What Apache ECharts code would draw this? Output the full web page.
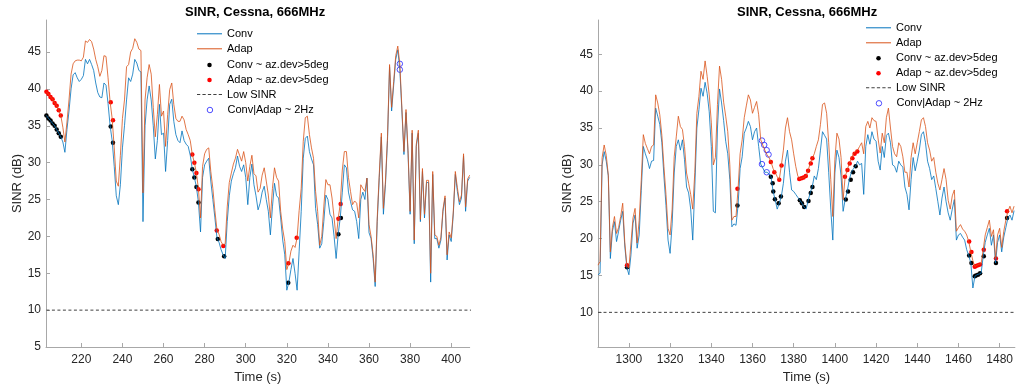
<!DOCTYPE html>
<html>
<head>
<meta charset="utf-8">
<script src="https://cdn.jsdelivr.net/npm/echarts@6/dist/echarts.min.js"></script>
<style>html,body{margin:0;padding:0;background:#fff}#c{width:1016px;height:389px}</style>
</head>
<body>
<div id="c"></div>
<script>
// ---------------- DATA ----------------
const titleText = 'SINR, Cessna, 666MHz';
const xName = 'Time (s)';
const yName = 'SINR (dB)';
const lowSinr = 10;

// Left panel: 1 s samples starting at t = 203 s
const leftStart = 203;
const leftConv = [
 36.4,36.0,35.7,35.3,35.0,34.5,34.0,33.5,32.8,31.4,
 34.5,37.0,40.0,41.9,42.2,41.5,41.0,41.3,41.8,44.0,
 43.4,44.0,43.3,42.5,40.8,39.5,38.9,38.8,40.8,40.5,
 38.0,35.0,33.0,29.5,25.5,24.3,27.0,32.0,35.0,38.5,
 41.5,41.0,42.0,44.0,43.5,42.5,42.3,22.0,35.0,38.5,
 40.4,38.5,35.0,30.5,33.0,37.9,33.8,34.0,28.8,33.0,
 37.9,38.6,35.6,33.8,33.0,32.7,34.3,33.0,32.5,32.2,
 31.0,29.1,28.0,26.7,24.6,20.6,28.0,29.7,30.2,30.6,
 27.5,25.0,22.5,19.8,19.2,18.2,17.5,17.0,22.0,25.5,
 27.5,28.5,29.3,30.9,29.5,28.8,29.7,28.0,24.3,28.0,
 29.8,27.0,25.5,23.6,24.5,26.0,26.8,25.0,23.4,20.2,
 24.0,27.2,25.5,25.2,22.5,19.5,17.5,12.7,13.8,15.5,
 17.0,15.0,12.7,18.0,23.4,30.6,33.3,33.6,31.5,30.5,
 29.7,23.8,21.6,18.4,19.0,22.0,25.6,25.0,23.0,22.5,
 20.0,17.0,20.3,22.5,26.0,29.7,29.3,26.0,24.7,23.6,
 23.4,22.0,19.7,25.0,26.0,25.0,27.9,20.5,19.7,17.0,
 13.2,22.0,28.0,33.5,23.0,27.0,33.0,43.0,37.0,40.5,
 44.0,45.3,42.6,37.0,31.1,36.8,31.2,23.0,34.0,19.0,
 32.2,34.0,22.0,28.8,22.5,27.3,27.3,13.8,28.4,19.7,
 19.7,18.4,19.5,23.4,25.2,16.8,20.2,19.3,22.9,28.4,
 26.1,24.3,25.2,30.9,23.4,27.5,28.0
];
const leftAdap = [
 39.6,39.3,38.9,38.6,38.1,37.7,37.1,36.4,34.8,32.8,
 35.5,38.5,42.0,43.4,43.8,43.9,43.9,43.8,44.3,46.5,
 46.3,46.7,46.4,45.4,44.0,43.0,41.7,42.5,44.5,44.4,
 41.5,38.2,36.0,32.0,27.5,26.8,31.0,36.0,38.5,43.0,
 43.3,45.0,45.5,46.8,46.3,45.4,45.2,25.9,38.5,41.5,
 43.3,42.0,37.5,33.5,36.5,40.6,36.3,37.0,32.2,36.5,
 39.9,40.8,37.9,36.0,35.6,35.6,36.3,35.8,34.5,33.8,
 33.0,31.1,30.0,28.6,26.4,22.5,29.5,31.2,31.8,32.0,
 28.8,26.5,23.5,20.9,20.3,19.3,18.8,19.0,24.0,27.3,
 28.6,29.8,30.6,31.8,31.0,30.2,31.5,30.0,27.5,29.5,
 31.0,28.5,28.2,26.0,26.5,28.3,29.3,27.5,25.6,22.5,
 26.5,29.3,28.0,27.5,23.4,21.0,19.3,15.5,16.4,18.0,
 18.8,18.5,19.8,23.5,26.5,32.9,36.1,36.3,33.8,32.0,
 30.6,26.1,23.4,18.8,20.0,24.0,27.7,27.0,27.0,25.2,
 22.5,19.7,22.4,24.4,29.0,31.5,31.5,28.0,26.1,24.3,
 24.8,24.5,22.5,27.0,26.5,26.1,27.9,21.6,20.0,17.5,
 13.8,22.5,28.5,34.0,23.8,27.5,33.5,43.3,37.5,41.0,
 44.5,45.8,43.4,37.4,31.5,37.2,31.6,23.4,34.4,19.5,
 32.5,34.4,22.3,29.2,23.0,27.6,27.6,15.0,28.8,20.2,
 20.0,18.8,19.9,23.7,25.5,17.5,20.6,19.8,23.3,28.8,
 26.6,24.7,25.6,31.2,24.0,27.8,28.3
];
const leftConvDotT = [203,204,205,206,207,208,209,210,234.3,235.4,274,275,276,277,286.4,289.5,320.7,345.1,346.3];
const leftConvDotV = [36.4,36.0,35.7,35.3,35.0,34.5,34.0,33.5,34.9,32.7,29.1,28.0,26.7,24.6,19.65,17.3,13.7,20.3,22.5];
const leftAdapDotT = [203,204,205,206,207,208,209,210,234.3,235.4,274,275,276,277,285.9,289.1,320.8,324.8,345.1,346.2];
const leftAdapDotV = [39.6,39.3,38.9,38.6,38.1,37.7,37.1,36.4,38.2,35.75,31.1,30.0,28.6,26.4,20.8,18.7,16.35,19.8,22.4,24.4];
const leftCircT = [375,375];
const leftCircV = [43.4,42.6];

// Right panel: 1 s samples starting at t = 1285 s
const rightStart = 1285;
const rightConv = [
 15.1,15.3,30.0,31.8,30.5,28.5,17.3,21.0,22.3,19.6,
 21.0,22.5,23.7,19.0,16.1,15.1,17.8,22.1,23.2,18.7,
 20.5,26.5,32.5,31.5,30.7,29.5,30.5,30.6,37.7,36.6,
 35.5,33.0,28.5,24.5,19.8,18.0,22.0,28.9,32.5,33.4,
 32.0,33.4,30.7,27.0,26.2,24.0,19.8,27.0,35.0,37.5,
 40.4,39.3,41.2,39.7,37.2,32.5,23.7,23.5,35.0,40.3,
 38.4,36.0,33.2,31.5,28.0,21.6,22.0,21.8,24.5,29.5,
 31.1,34.3,35.0,35.9,35.2,33.4,34.5,35.0,32.5,30.1,
 29.6,29.0,29.0,28.8,28.4,26.4,25.3,24.0,24.8,25.7,
 27.5,30.5,32.0,29.0,26.6,26.4,26.0,25.6,25.2,24.8,
 24.3,24.0,25.1,26.2,27.0,28.5,28.0,29.5,32.0,34.5,
 34.0,33.5,29.0,24.0,19.8,28.9,32.0,31.0,28.5,23.7,
 25.3,26.4,28.0,29.0,29.5,29.8,30.5,30.0,30.2,26.0,
 32.5,34.1,32.8,34.5,33.5,33.2,30.5,29.3,32.5,31.0,
 34.0,34.3,33.0,30.0,29.8,29.0,30.5,30.0,29.7,27.0,
 26.0,23.9,28.0,31.0,29.2,30.5,32.0,34.1,34.5,33.0,
 30.5,29.5,28.0,28.5,26.8,25.0,23.2,25.5,27.0,25.0,
 23.5,22.5,24.0,25.3,19.8,20.5,20.7,20.2,19.8,18.5,
 17.7,16.7,13.3,14.9,15.1,15.2,15.3,17.6,19.5,20.5,
 21.4,19.1,20.5,16.7,19.5,20.5,18.2,20.2,21.5,22.8,
 23.2,22.5,23.8
];
const rightAdap = [
 16.4,16.9,31.0,32.7,31.3,28.6,18.2,21.5,23.0,20.7,
 21.5,23.0,24.8,19.5,16.4,16.0,19.4,22.8,24.1,19.4,
 22.5,27.9,34.1,32.9,32.2,31.5,32.5,32.7,39.5,38.4,
 36.8,34.0,29.8,26.0,21.4,20.5,24.0,31.1,33.8,36.6,
 35.2,34.8,32.5,28.9,27.5,26.0,24.0,29.0,37.0,39.3,
 42.7,41.6,44.1,42.0,39.5,35.8,30.0,31.0,38.2,43.4,
 41.6,38.5,36.6,34.5,30.0,22.5,23.0,23.0,26.75,31.5,
 33.4,36.4,38.0,39.5,38.8,37.0,37.8,38.6,36.8,33.4,
 32.7,32.0,31.4,31.0,30.4,29.5,29.0,28.4,28.0,29.9,
 32.0,35.0,36.4,34.5,33.4,31.5,29.8,28.5,28.1,28.2,
 28.3,28.5,29.2,30.2,30.9,31.5,32.5,33.4,35.5,38.2,
 38.4,37.0,33.0,28.0,23.0,30.7,34.3,33.5,31.0,25.3,
 28.4,29.3,30.2,30.9,31.5,31.8,32.0,32.5,33.0,31.5,
 35.2,35.9,35.0,36.4,36.0,35.9,33.5,31.6,34.3,33.0,
 36.4,37.7,35.0,32.5,31.5,31.1,33.0,32.5,31.1,29.0,
 29.0,27.0,31.0,33.0,31.5,33.0,34.5,36.1,36.4,35.2,
 33.0,32.0,30.5,31.0,29.0,27.5,26.6,28.0,29.5,28.0,
 25.2,24.0,25.8,26.6,21.0,21.5,21.9,21.3,21.0,20.5,
 19.6,18.2,17.0,16.2,16.4,16.5,16.6,18.5,20.5,21.5,
 22.5,20.3,21.2,17.3,20.5,21.4,18.8,21.0,22.5,23.7,
 24.4,23.5,24.4
];
const rightConvDotT = [1299.1,1352.7,1368.9,1369.8,1370.1,1370.9,1372.7,1373.8,1383,1384,1385.1,1387.2,1388.3,1389.1,1405.3,1406.4,1407.7,1408.8,1410.1,1465.2,1466.3,1467.9,1468.5,1469.5,1470.5,1472.3,1478.2,1483.6];
const rightConvDotV = [16.1,24.5,28.4,27.5,26.4,25.35,24.8,25.7,25.2,24.8,24.3,25.1,26.2,27.0,25.3,26.4,28.0,29.0,29.8,17.7,16.7,14.9,15.0,15.1,15.3,17.6,16.7,22.8];
const rightAdapDotT = [1299.1,1352.7,1368.9,1370.6,1373,1374.1,1382.7,1383.8,1384.8,1385.9,1387,1388.3,1389.1,1404.9,1406.1,1407.2,1408.5,1409.6,1410.9,1465.2,1466.3,1467.9,1468.5,1469.5,1470.5,1472.3,1478.2,1483.6];
const rightAdapDotV = [16.4,26.75,30.4,29.0,28.0,29.9,28.1,28.2,28.3,28.5,29.2,30.2,30.9,28.4,29.3,30.2,30.9,31.5,31.8,19.6,18.2,16.2,16.3,16.4,16.5,18.5,17.3,23.7];
const rightCircT = [1364.6,1365.7,1366.9,1367.8,1364.6,1366.9];
const rightCircV = [33.3,32.7,32.0,31.4,30.1,29.0];

const leftXTicks = [220,240,260,280,300,320,340,360,380,400];
const rightXTicks = [1300,1320,1340,1360,1380,1400,1420,1440,1460,1480];
const leftYTicks = [5,10,15,20,25,30,35,40,45];
const rightYTicks = [10,15,20,25,30,35,40,45];

const names = ['Conv','Adap','Conv ~ az.dev>5deg','Adap ~ az.dev>5deg','Low SINR','Conv|Adap ~ 2Hz'];

// ---------------- STYLE ----------------
const FONT = "'Liberation Sans', Arial, Helvetica, sans-serif";
const C_CONV = '#0072BD', C_ADAP = '#D95319', C_CIRC = '#3a3aff', C_LOW = '#404040';
const AX = '#a8a8a8', TXT = '#262626';
const LW = 0.8;

function seq(t0, vals){ return vals.map((v,i)=>[t0+i, v]); }
function zip(ts, vs){ return ts.map((t,i)=>[t, vs[i]]); }

function panelSeries(idx, t0, conv, adap, cdT, cdV, adT, adV, ciT, ciV){
  const tEnd = t0 + conv.length - 1;
  return [
    {name:names[0], type:'line', xAxisIndex:idx, yAxisIndex:idx, data:seq(t0,conv), symbol:'none', lineStyle:{width:LW, color:C_CONV}, itemStyle:{color:C_CONV}},
    {name:names[1], type:'line', xAxisIndex:idx, yAxisIndex:idx, data:seq(t0,adap), symbol:'none', lineStyle:{width:LW, color:C_ADAP}, itemStyle:{color:C_ADAP}},
    {name:names[2], type:'scatter', xAxisIndex:idx, yAxisIndex:idx, data:zip(cdT,cdV), symbol:'circle', symbolSize:4.5, itemStyle:{color:'#000', opacity:1}},
    {name:names[3], type:'scatter', xAxisIndex:idx, yAxisIndex:idx, data:zip(adT,adV), symbol:'circle', symbolSize:4.5, itemStyle:{color:'#ff0000', opacity:1}},
    {name:names[4], type:'line', xAxisIndex:idx, yAxisIndex:idx, data:[[t0,lowSinr],[tEnd+1,lowSinr]], symbol:'none', lineStyle:{width:1, color:C_LOW, type:[3,2.5]}, itemStyle:{color:C_LOW}},
    {name:names[5], type:'scatter', xAxisIndex:idx, yAxisIndex:idx, data:zip(ciT,ciV), symbol:'circle', symbolSize:5.5, itemStyle:{color:'rgba(0,0,0,0)', borderColor:C_CIRC, borderWidth:0.9, opacity:1}}
  ];
}

function xAx(idx, min, max, ticks){
  return {type:'value', gridIndex:idx, min, max, name:xName, nameLocation:'middle', nameGap:23,
    nameTextStyle:{fontSize:13, color:TXT, fontFamily:FONT},
    axisLine:{show:true, onZero:false, lineStyle:{color:AX, width:1}},
    axisTick:{show:true, inside:true, length:4, customValues:ticks, lineStyle:{color:AX}},
    axisLabel:{customValues:ticks, margin:7, fontSize:12, color:TXT, fontFamily:FONT, formatter:(v)=>String(v)},
    splitLine:{show:false}};
}
function yAx(idx, min, max, ticks, gap){
  return {type:'value', gridIndex:idx, min, max, name:yName, nameLocation:'middle', nameGap:gap,
    nameTextStyle:{fontSize:13, color:TXT, fontFamily:FONT},
    axisLine:{show:true, onZero:false, lineStyle:{color:AX, width:1}},
    axisTick:{show:true, inside:true, length:4, customValues:ticks, lineStyle:{color:AX}},
    axisLabel:{customValues:ticks, margin:5, fontSize:12, color:TXT, fontFamily:FONT, formatter:(v)=>String(v)},
    splitLine:{show:false}};
}

const ICON_LINE = 'path://M0,0H25V1H0Z';
const ICON_DASH = 'path://M0,0h3v1h-3zM5,0h3v1h-3zM10,0h3v1h-3zM15,0h3v1h-3zM20,0h3v1h-3z';
function legendRow(name, icon, h, w, left, cy, bw){
  // a narrow icon is centred in the 25 px slot, so shift the box by the unused half
  return {show:true, selectedMode:false, orient:'horizontal', left: left + (25 - w)/2, top: cy - Math.max(h,11)/2,
    padding:0, itemWidth:25, itemHeight:h, itemGap:0,
    textStyle:{fontSize:11, color:'#000', fontFamily:FONT},
    itemStyle:{borderWidth: bw||0}, data:[{name, icon}]};
}
function legends(left, rows){
  const icons = [ICON_LINE, ICON_LINE, 'circle', 'circle', ICON_DASH, 'circle'];
  const hs = [12,12,4.5,4.5,12,5.5];
  const ws = [25,25,4.5,4.5,25,5.5];
  const bws = [0,0,0,0,0,0.9];
  return names.map((n,i)=>legendRow(n, icons[i], hs[i], ws[i], left, rows[i], bws[i]));
}

const option = {
  animation:false,
  backgroundColor:'#fff',
  textStyle:{fontFamily:FONT},
  title:[
    {text:titleText, left:185, top:6, padding:0, textStyle:{fontSize:13, fontWeight:'bold', color:'#000', fontFamily:FONT}},
    {text:titleText, left:737, top:6, padding:0, textStyle:{fontSize:13, fontWeight:'bold', color:'#000', fontFamily:FONT}}
  ],
  grid:[
    {left:46, top:20, width:423.7, height:327, containLabel:false},
    {left:598, top:20, width:418, height:327, containLabel:false}
  ],
  xAxis:[ xAx(0, 202.8, 409, leftXTicks), xAx(1, 1285, 1487.4, rightXTicks) ],
  yAxis:[ yAx(0, 5, 49.34, leftYTicks, 22), yAx(1, 5.3, 49.65, rightYTicks, 24) ],
  legend: legends(197, [34.3,49.3,65,80,95,110]).concat(legends(866, [28.3,43.3,58.3,73.3,88.3,103.3])),
  series: panelSeries(0, leftStart, leftConv, leftAdap, leftConvDotT, leftConvDotV, leftAdapDotT, leftAdapDotV, leftCircT, leftCircV)
    .concat(panelSeries(1, rightStart, rightConv, rightAdap, rightConvDotT, rightConvDotV, rightAdapDotT, rightAdapDotV, rightCircT, rightCircV))
};

const chart = echarts.init(document.getElementById('c'), null, {renderer:'canvas'});
chart.setOption(option);
</script>
</body>
</html>
